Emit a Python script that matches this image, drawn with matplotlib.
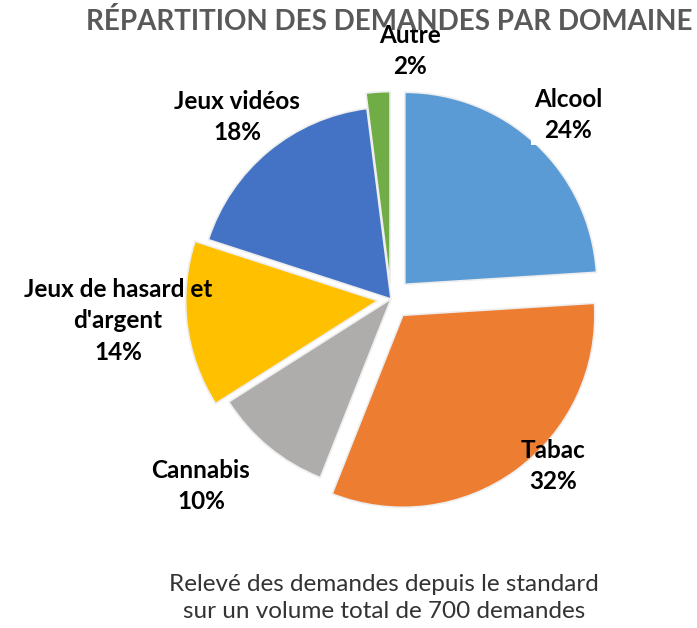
import matplotlib
matplotlib.use("Agg")
import matplotlib.pyplot as plt

# data
domaines = ["Alcool", "Tabac", "Cannabis", "Jeux de hasard et\nd'argent", "Jeux vidéos", "Autre"]
parts = [24, 32, 10, 14, 18, 2]
couleurs = ["#5B9BD5", "#ED7D31", "#AFADAC", "#FFC000", "#4472C4", "#70AD47"]
ecarts = [0.105, 0.105, 0.0, 0.07, 0.0, 0.08]  # fraction of the radius

titre = "RÉPARTITION DES DEMANDES PAR DOMAINE"
sous_titre = "Relevé des demandes depuis le standard\nsur un volume total de 700 demandes"

W, H = 697, 628
fig = plt.figure(figsize=(W / 100, H / 100), dpi=100)
ax = fig.add_axes([0, 0, 1, 1])

cx, cy, r = 391, H - 299, 192
# pie's explode offset is absolute, so scale it by the radius
ax.pie(parts, colors=couleurs, explode=[e * r for e in ecarts], startangle=90,
       counterclock=False, center=(cx, cy), radius=r,
       wedgeprops=dict(edgecolor="#eeeeee", linewidth=1.2))
ax.set_xlim(0, W)
ax.set_ylim(0, H)
ax.set_aspect("equal")
ax.axis("off")

lab_font = dict(family="Lato", weight="bold", fontsize=17.5, color="black",
                ha="center", va="center", linespacing=1.45)

# label positions in pixels (x, y from top)
positions = [(568, 115), (553, 466), (201, 486), (118, 321), (237, 117), (410, 51)]
for nom, p, (x, y) in zip(domaines, parts, positions):
    kw = dict(lab_font)
    if nom == "Alcool":
        kw["bbox"] = dict(facecolor="white", edgecolor="none", pad=2)
    ax.text(x, H - y, f"{nom}\n{p}%", **kw)

fig.text(389 / W, 1 - 22 / H, titre, family="Lato", weight="bold", fontsize=20,
         color="#595959", ha="center", va="center", zorder=0)
fig.text(384 / W, 1 - 598 / H, sous_titre, family="Lato", fontsize=17.5,
         color="#333333", ha="center", va="center", linespacing=1.3)

fig.savefig("out.png", dpi=100)
